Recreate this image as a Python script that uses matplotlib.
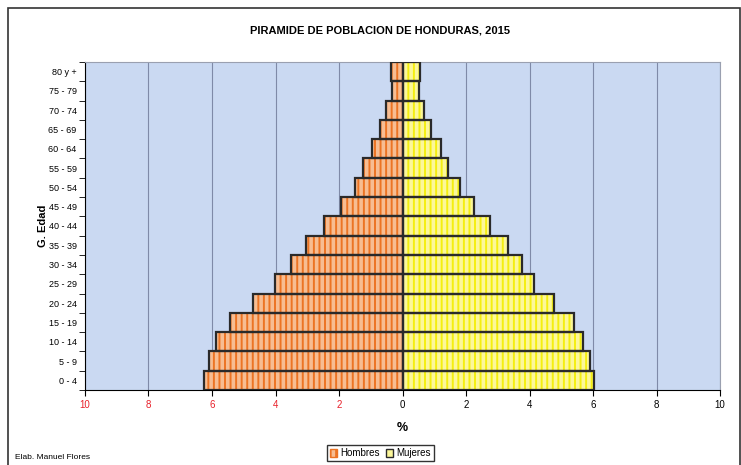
import matplotlib
matplotlib.use("Agg")
import matplotlib.pyplot as plt
from matplotlib.patches import Rectangle, Patch
import numpy as np

plt.rcParams['font.family'] = ['Liberation Sans Narrow', 'Liberation Sans', 'DejaVu Sans']
plt.rcParams['hatch.linewidth'] = 1.4

# age groups and % of population
age_groups = ['0 - 4', '5 - 9', '10 - 14', '15 - 19', '20 - 24', '25 - 29', '30 - 34',
              '35 - 39', '40 - 44', '45 - 49', '50 - 54', '55 - 59', '60 - 64',
              '65 - 69', '70 - 74', '75 - 79', '80 y +']
hombres = [6.26, 6.09, 5.86, 5.42, 4.70, 4.01, 3.52, 3.05, 2.48, 1.93, 1.49, 1.23,
           0.95, 0.71, 0.52, 0.34, 0.37]
mujeres = [6.02, 5.90, 5.70, 5.39, 4.76, 4.15, 3.75, 3.32, 2.75, 2.26, 1.82, 1.43,
           1.22, 0.91, 0.68, 0.51, 0.54]
xticks = [-10, -8, -6, -4, -2, 0, 2, 4, 6, 8, 10]

fig = plt.figure(figsize=(7.41, 4.65), dpi=100)
ax = fig.add_axes([0.1147, 0.1613, 0.857, 0.7054])
ax.set_facecolor('#cad9f2')

y = np.arange(len(age_groups))
men = -np.array(hombres)
women = np.array(mujeres)

# striped fill, then the black outline on top
ax.barh(y, men, height=1.0, color='#f7bd92', edgecolor='#ec7424', hatch='|||', linewidth=0, zorder=2)
ax.barh(y, women, height=1.0, color='#fcf79a', edgecolor='#f4ee10', hatch='|||', linewidth=0, zorder=2)
ax.barh(y, men, height=1.0, fill=False, edgecolor='#2a2a2a', linewidth=1.6, zorder=3)
ax.barh(y, women, height=1.0, fill=False, edgecolor='#2a2a2a', linewidth=1.6, zorder=3)

ax.set_xlim(-10, 10)
ax.set_ylim(-0.5, len(age_groups) - 0.5)
ax.set_xticks(xticks)
ax.set_xticklabels([str(abs(v)) for v in xticks], fontsize=7)
for lab, v in zip(ax.get_xticklabels(), xticks):
    lab.set_color('#e8202a' if v < 0 else 'black')
ax.set_yticks(y)
ax.set_yticklabels(age_groups, fontsize=6.5)
ax.set_yticks(np.arange(-0.5, len(age_groups)), minor=True)
ax.tick_params(axis='y', which='major', length=0, pad=6)
ax.tick_params(axis='y', which='minor', length=4, direction='out')
ax.tick_params(axis='x', length=4, direction='out')

ax.grid(axis='x', color='#7f8aa8', linewidth=0.8, zorder=1)
ax.set_axisbelow(True)
for side in ['top', 'right']:
    ax.spines[side].set_color('#9aa0b0')
ax.spines['bottom'].set_color('black')
ax.spines['left'].set_color('black')

ax.set_xlabel('%', fontsize=9, fontweight='bold', labelpad=8)
ax.set_ylabel('G. Edad', fontsize=8, fontweight='bold', labelpad=0)
fig.text(0.513, 0.935, 'PIRAMIDE DE POBLACION DE HONDURAS, 2015', ha='center',
         va='center', fontsize=8, fontweight='bold')

handles = [Patch(facecolor='#f7bd92', edgecolor='#ec7424', hatch='|||'),
           Patch(facecolor='#fcf79a', edgecolor='#2a2a2a')]
leg = fig.legend(handles, ['Hombres', 'Mujeres'], loc='center', bbox_to_anchor=(0.513, 0.025),
                 ncol=2, fontsize=7, frameon=True, fancybox=False, edgecolor='black',
                 handlelength=0.8, handleheight=0.8, handletextpad=0.3, columnspacing=0.6,
                 borderpad=0.3)
leg.get_frame().set_linewidth(1.0)

fig.text(0.02, 0.008, 'Elab. Manuel Flores', fontsize=6, ha='left', va='bottom')
fig.patches.append(Rectangle((0.011, -0.01), 0.987, 0.993, transform=fig.transFigure,
                             fill=False, edgecolor='#333333', linewidth=1.2))

fig.savefig('out.png', dpi=100)
